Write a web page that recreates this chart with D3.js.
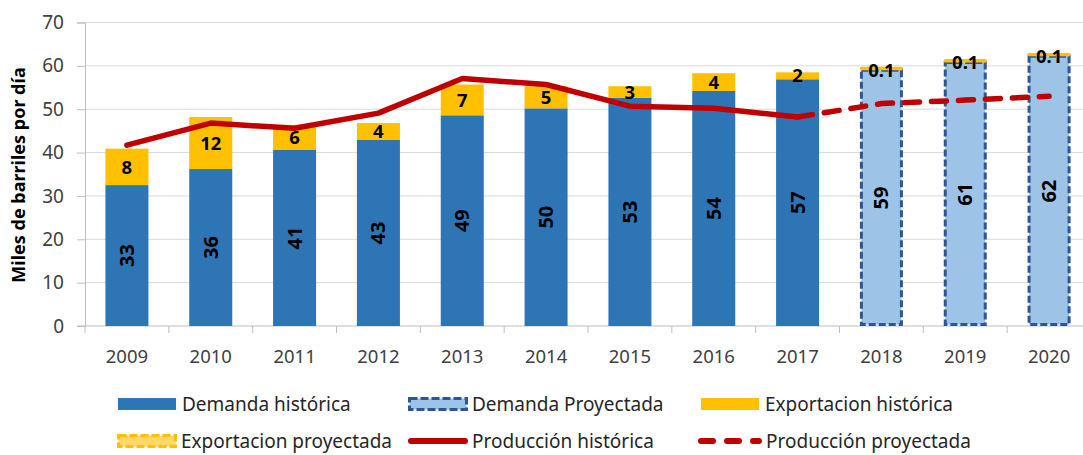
<!DOCTYPE html>
<html>
<head>
<meta charset="utf-8">
<script src="https://cdn.jsdelivr.net/npm/d3@7"></script>
<style>
  body { margin: 0; background: #fff; }
  svg { font-family: "Noto Sans", sans-serif; }
</style>
</head>
<body>
<div id="chart"></div>
<script>
var years = ["2009","2010","2011","2012","2013","2014","2015","2016","2017","2018","2019","2020"];
var histYears = years.slice(0, 9);
var projYears = years.slice(9);

// miles de barriles por dia
var demandaHist = [32.5, 36.2, 40.6, 42.9, 48.6, 50.2, 52.6, 54.2, 56.9];
var exportHist = [8.4, 12.0, 5.8, 3.9, 7.1, 5.1, 2.7, 4.1, 1.6];
var demandaProy = [59.0, 60.8, 62.2];
var exportProy = [0.1, 0.1, 0.1];
var prodHist = [41.7, 46.8, 45.6, 49.1, 57.1, 55.7, 50.7, 50.2, 48.2];
var prodProy = [48.2, 51.3, 52.1, 53.0]; // 2017 -> 2020
var prodProyYears = ["2017", "2018", "2019", "2020"];
var yTicks = [0, 10, 20, 30, 40, 50, 60, 70];

var width = 1083, height = 455;
var svg = d3.select("#chart").append("svg")
    .attr("width", width)
    .attr("height", height);

var x = d3.scaleBand()
    .domain(years)
    .range([85, 1091])
    .paddingInner(0.487)
    .paddingOuter(0.2435);

var y = d3.scaleLinear()
    .domain([0, 70])
    .range([326, 22.5]);

var fmt = function (v) { return v < 1 ? v.toFixed(1) : String(Math.round(v)); };

// grid
svg.append("g")
  .selectAll("line")
  .data(yTicks.slice(1))
  .enter().append("line")
    .attr("x1", 85).attr("x2", 1091)
    .attr("y1", function (d) { return y(d); })
    .attr("y2", function (d) { return y(d); })
    .attr("stroke", "#d9d9d9")
    .attr("stroke-width", 1);

// y axis
var yAxis = svg.append("g")
    .attr("transform", "translate(85,0)")
    .call(d3.axisLeft(y).tickValues(yTicks).tickSize(8).tickPadding(13));
yAxis.select(".domain").attr("stroke", "#bfbfbf");
yAxis.selectAll(".tick line").attr("stroke", "#bfbfbf");
yAxis.selectAll("text").attr("font-size", 19).attr("fill", "#404040")
    .attr("font-family", "Noto Sans");

// x axis with ticks at category boundaries
var xAxisG = svg.append("g").attr("transform", "translate(0," + y(0) + ")");
xAxisG.append("line").attr("x1", 77).attr("x2", 1091).attr("stroke", "#bfbfbf");
xAxisG.selectAll(".bt")
  .data(years)
  .enter().append("line")
    .attr("class", "bt")
    .attr("x1", function (d) { return x(d) - x.step() * x.paddingOuter(); })
    .attr("x2", function (d) { return x(d) - x.step() * x.paddingOuter(); })
    .attr("y1", 0).attr("y2", 7)
    .attr("stroke", "#bfbfbf");
xAxisG.selectAll(".xl")
  .data(years)
  .enter().append("text")
    .attr("class", "xl")
    .attr("x", function (d) { return x(d) + x.bandwidth() / 2; })
    .attr("y", 37)
    .attr("text-anchor", "middle")
    .attr("font-size", 18.5)
    .attr("fill", "#404040")
    .text(function (d) { return d; });

// y title
svg.append("text")
    .attr("transform", "translate(25," + 175 + ") rotate(-90)")
    .attr("text-anchor", "middle")
    .attr("font-size", 18)
    .attr("font-weight", "bold")
    .attr("fill", "#000")
    .text("Miles de barriles por día");

// historical bars
var hist = histYears.map(function (yr, i) { return { year: yr, dem: demandaHist[i], exp: exportHist[i] }; });
var proj = projYears.map(function (yr, i) { return { year: yr, dem: demandaProy[i], exp: exportProy[i] }; });

svg.append("g").selectAll("rect")
  .data(hist).enter().append("rect")
    .attr("x", function (d) { return x(d.year); })
    .attr("width", x.bandwidth())
    .attr("y", function (d) { return y(d.dem); })
    .attr("height", function (d) { return y(0) - y(d.dem); })
    .attr("fill", "#2e75b6");

svg.append("g").selectAll("rect")
  .data(hist).enter().append("rect")
    .attr("x", function (d) { return x(d.year); })
    .attr("width", x.bandwidth())
    .attr("y", function (d) { return y(d.dem + d.exp); })
    .attr("height", function (d) { return y(d.dem) - y(d.dem + d.exp); })
    .attr("fill", "#ffc000");

// projected bars
svg.append("g").selectAll("rect")
  .data(proj).enter().append("rect")
    .attr("x", function (d) { return x(d.year) + 1.5; })
    .attr("width", x.bandwidth() - 3)
    .attr("y", function (d) { return y(d.dem); })
    .attr("height", function (d) { return y(0) - y(d.dem) - 1.5; })
    .attr("fill", "#9dc3e6")
    .attr("stroke", "#2f5597")
    .attr("stroke-width", 3)
    .attr("stroke-dasharray", "7,3");

svg.append("g").selectAll("rect")
  .data(proj).enter().append("rect")
    .attr("x", function (d) { return x(d.year) + 1.5; })
    .attr("width", x.bandwidth() - 3)
    .attr("y", function (d) { return y(d.dem + d.exp) - 1.5; })
    .attr("height", function (d) { return y(d.dem) - y(d.dem + d.exp); })
    .attr("fill", "#ffd966")
    .attr("stroke", "#ffc000")
    .attr("stroke-width", 3)
    .attr("stroke-linejoin", "round");

// production lines
var line = d3.line()
    .x(function (d) { return x(d[0]) + x.bandwidth() / 2; })
    .y(function (d) { return y(d[1]); });

svg.append("path")
    .datum(histYears.map(function (yr, i) { return [yr, prodHist[i]]; }))
    .attr("d", line)
    .attr("fill", "none")
    .attr("stroke", "#c00000")
    .attr("stroke-width", 5.5)
    .attr("stroke-linejoin", "round")
    .attr("stroke-linecap", "round");

svg.append("path")
    .datum(prodProyYears.map(function (yr, i) { return [yr, prodProy[i]]; }))
    .attr("d", line)
    .attr("fill", "none")
    .attr("stroke", "#c00000")
    .attr("stroke-width", 5.5)
    .attr("stroke-dasharray", "15,12")
    .attr("stroke-linecap", "round");

// data labels
var all = hist.concat(proj);
svg.append("g").selectAll("text")
  .data(all).enter().append("text")
    .attr("transform", function (d) {
      return "translate(" + (x(d.year) + x.bandwidth() / 2) + "," + ((y(0) + y(d.dem)) / 2) + ") rotate(-90)";
    })
    .attr("text-anchor", "middle")
    .attr("dy", "0.35em")
    .attr("font-size", 20)
    .attr("font-weight", "bold")
    .attr("fill", "#000")
    .text(function (d) { return fmt(d.dem); });

svg.append("g").selectAll("text")
  .data(all).enter().append("text")
    .attr("x", function (d) { return x(d.year) + x.bandwidth() / 2; })
    .attr("y", function (d) { return (y(d.dem) + y(d.dem + d.exp)) / 2; })
    .attr("text-anchor", "middle")
    .attr("dy", "0.36em")
    .attr("font-size", 18.5)
    .attr("font-weight", "bold")
    .attr("fill", "#000")
    .text(function (d) { return fmt(d.exp); });

// legend
var legendItems = [
  { label: "Demanda histórica", type: "solid", fill: "#2e75b6", lx: 118, ly: 404 },
  { label: "Demanda Proyectada", type: "dashbox", fill: "#9dc3e6", stroke: "#2f5597", lx: 408, ly: 404 },
  { label: "Exportacion histórica", type: "solid", fill: "#ffc000", lx: 701, ly: 404 },
  { label: "Exportacion proyectada", type: "dashbox", fill: "#ffd966", stroke: "#ffc000", lx: 117, ly: 441 },
  { label: "Producción histórica", type: "line", stroke: "#c00000", lx: 408, ly: 441 },
  { label: "Producción proyectada", type: "dashline", stroke: "#c00000", lx: 698, ly: 441 }
];

var lg = svg.append("g").selectAll("g")
  .data(legendItems).enter().append("g")
    .attr("transform", function (d) { return "translate(" + d.lx + "," + d.ly + ")"; });

lg.filter(function (d) { return d.type === "solid"; })
  .append("rect")
    .attr("x", 0).attr("y", -6).attr("width", 58).attr("height", 12)
    .attr("fill", function (d) { return d.fill; });

lg.filter(function (d) { return d.type === "dashbox"; })
  .append("rect")
    .attr("x", 1.5).attr("y", -5.5).attr("width", 57).attr("height", 11)
    .attr("fill", function (d) { return d.fill; })
    .attr("stroke", function (d) { return d.stroke; })
    .attr("stroke-width", 3)
    .attr("stroke-dasharray", "8,3");

lg.filter(function (d) { return d.type === "line"; })
  .append("line")
    .attr("x1", 3).attr("x2", 57).attr("y1", 0).attr("y2", 0)
    .attr("stroke", function (d) { return d.stroke; })
    .attr("stroke-width", 6)
    .attr("stroke-linecap", "round");

lg.filter(function (d) { return d.type === "dashline"; })
  .append("line")
    .attr("x1", 3).attr("x2", 61).attr("y1", 0).attr("y2", 0)
    .attr("stroke", function (d) { return d.stroke; })
    .attr("stroke-width", 6)
    .attr("stroke-dasharray", "12,14")
    .attr("stroke-linecap", "round");

lg.append("text")
    .attr("x", function (d) { return d.type === "dashline" ? 68 : 64; })
    .attr("y", 0)
    .attr("dy", "0.35em")
    .attr("font-size", 19)
    .attr("fill", "#262626")
    .text(function (d) { return d.label; });
</script>
</body>
</html>
